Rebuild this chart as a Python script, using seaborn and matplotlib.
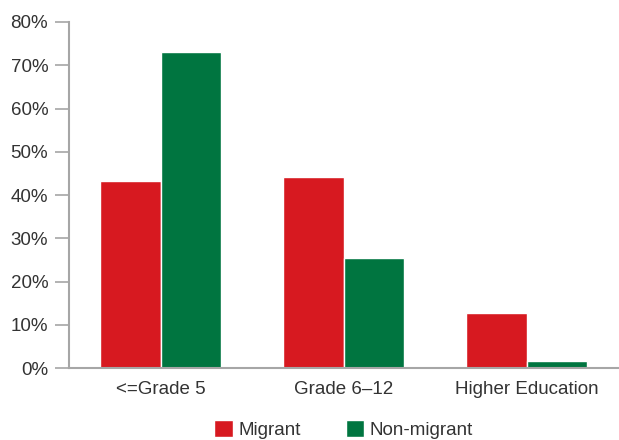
import matplotlib.pyplot as plt
import matplotlib.ticker as mticker
import pandas as pd
import seaborn as sns

categories = ['<=Grade 5', 'Grade 6–12', 'Higher Education']
migrant = [43.2, 44.2, 12.7]
non_migrant = [73.1, 25.4, 1.6]

df = pd.DataFrame({
    'cat': categories * 2,
    'group': ['Migrant'] * 3 + ['Non-migrant'] * 3,
    'value': migrant + non_migrant,
})

sns.set_style('white')
plt.rcParams['font.family'] = ['Liberation Sans', 'DejaVu Sans']
text_col = '#333333'
axis_col = '#a6a6a6'
fs = 13.5

fig = plt.figure(figsize=(6.19, 4.40), dpi=100)
ax = fig.add_axes([0.1115, 0.1636, 0.887, 0.7864])

sns.barplot(data=df, x='cat', y='value', hue='group', order=categories,
            palette={'Migrant': '#d71920', 'Non-migrant': '#007540'},
            width=0.665, edgecolor='white', linewidth=1, saturation=1, ax=ax)

ax.set_xlim(-0.5, 2.5)
ax.set_ylim(0, 80)
ax.yaxis.set_major_locator(mticker.MultipleLocator(10))
ax.yaxis.set_major_formatter(mticker.FuncFormatter(lambda v, p: f'{v:.0f}%'))
ax.set_xlabel('')
ax.set_ylabel('')

ax.xaxis.set_minor_locator(mticker.FixedLocator([-0.5, 0.5, 1.5, 2.5]))
ax.tick_params(axis='x', which='major', length=0, pad=9, labelsize=fs, labelcolor=text_col)
ax.tick_params(axis='x', which='minor', length=8, width=1.2, color=axis_col, direction='out')
ax.tick_params(axis='y', length=10, width=1.2, color=axis_col, direction='out',
               labelsize=fs, labelcolor=text_col, pad=5, left=True)

sns.despine(ax=ax)
for s in ['left', 'bottom']:
    ax.spines[s].set_color(axis_col)
    ax.spines[s].set_linewidth(1.5)

leg = ax.legend(loc='upper center', bbox_to_anchor=(0.5, -0.13), ncol=2, frameon=False,
                fontsize=fs, handlelength=1.0, handleheight=1.0, handletextpad=0.3,
                columnspacing=2.4, borderaxespad=0)
for t in leg.get_texts():
    t.set_color(text_col)

fig.savefig('out.png', dpi=100)
